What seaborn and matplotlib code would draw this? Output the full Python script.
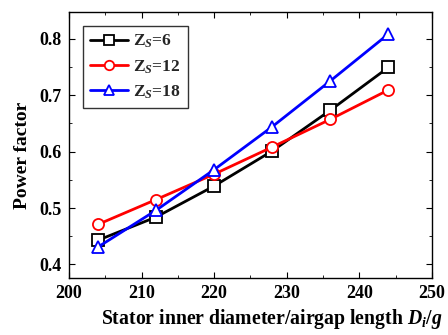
import matplotlib
matplotlib.use("Agg")
import matplotlib.pyplot as plt
import pandas as pd
import seaborn as sns
from matplotlib.ticker import MultipleLocator

ratio = [204, 212, 220, 228, 236, 244]
pf_zs6 = [0.443, 0.484, 0.539, 0.601, 0.673, 0.749]
pf_zs12 = [0.471, 0.515, 0.560, 0.608, 0.657, 0.709]
pf_zs18 = [0.431, 0.496, 0.568, 0.644, 0.725, 0.808]
labels = [r'Z$_{\mathit{S}}$=6', r'Z$_{\mathit{S}}$=12', r'Z$_{\mathit{S}}$=18']

sns.set_style("ticks")
plt.rcParams['font.family'] = ['Liberation Serif', 'DejaVu Serif']
plt.rcParams['font.weight'] = 'bold'
plt.rcParams['mathtext.fontset'] = 'custom'
plt.rcParams['mathtext.rm'] = 'Liberation Serif:bold'
plt.rcParams['mathtext.bf'] = 'Liberation Serif:bold'
plt.rcParams['mathtext.it'] = 'Liberation Serif:italic:bold'

fig = plt.figure(figsize=(4.48, 3.35), dpi=100)
ax = fig.add_axes([0.154, 0.170, 0.810, 0.794])

series = [(pf_zs6, 'black', 's'), (pf_zs12, 'red', 'o'), (pf_zs18, 'blue', '^')]
for (vals, col, mk), lab in zip(series, labels):
    df = pd.DataFrame({'ratio': ratio, 'pf': vals})
    sns.lineplot(data=df, x='ratio', y='pf', ax=ax, color=col, marker=mk,
                 markersize=8, markerfacecolor='white', markeredgecolor=col,
                 markeredgewidth=1.3, linewidth=2.0, label=lab)

ax.set_xlim(200, 250)
ax.set_ylim(0.376, 0.847)
ax.xaxis.set_major_locator(MultipleLocator(10))
ax.xaxis.set_minor_locator(MultipleLocator(5))
ax.yaxis.set_major_locator(MultipleLocator(0.1))
ax.yaxis.set_minor_locator(MultipleLocator(0.05))
ax.tick_params(which='both', direction='in', top=True, right=True,
               labelsize=13, color='black', labelcolor='black')
ax.tick_params(which='major', length=4, pad=5)
ax.tick_params(which='minor', length=2)
for lbl in ax.get_xticklabels() + ax.get_yticklabels():
    lbl.set_fontweight('bold')
for s in ax.spines.values():
    s.set_linewidth(1.0)
    s.set_color('black')

ax.set_xlabel(r'Stator inner diameter/airgap length $D_i/g$', fontsize=14.2,
              fontweight='bold', color='black')
ax.set_ylabel('Power factor', fontsize=14, fontweight='bold', color='black')
ax.xaxis.set_label_coords(0.56, -0.11)
ax.yaxis.set_label_coords(-0.105, 0.46)

leg = ax.legend(loc='upper left', fontsize=12.5, frameon=True, fancybox=False,
                edgecolor='black', handlelength=2.2, borderaxespad=0.8,
                labelspacing=0.45, handletextpad=0.3, borderpad=0.4,
                markerscale=0.85)
leg.get_frame().set_linewidth(1.0)

fig.savefig('out.png', dpi=100)
